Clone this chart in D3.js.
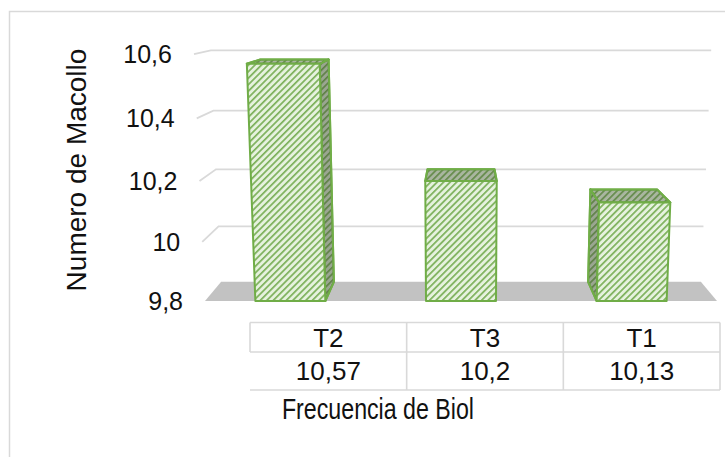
<!DOCTYPE html>
<html>
<head>
<meta charset="utf-8">
<script src="https://cdn.jsdelivr.net/npm/d3@7"></script>
<style>
  html, body { margin: 0; padding: 0; background: #fff; }
  svg { display: block; font-family: "Liberation Sans", Arial, sans-serif; }
</style>
</head>
<body>
<svg id="chart" width="725" height="457"></svg>
<script>
// Numero de Macollo por frecuencia de aplicación de Biol
const categories = ["T2", "T3", "T1"];
const values = [10.57, 10.2, 10.13];
const valueLabels = ["10,57", "10,2", "10,13"];
const tickValues = [9.8, 10, 10.2, 10.4, 10.6];
const tickLabels = ["9,8", "10", "10,2", "10,4", "10,6"];

const svg = d3.select("#chart");

// ---- 3D projection helpers -------------------------------------------------
// value -> height fraction on the front plane
const tScale = d3.scaleLinear().domain([9.8, 10.6]).range([0, 1]);
// categories laid out along the floor's front edge
const xBand = d3.scaleBand().domain(categories).range([205, 717])
  .paddingInner(0.59).paddingOuter(0.295);

const floorY = 301;                    // front edge of the floor
const wallH = 233.4, persp = -0.055;   // foreshortened front-plane height
const cx = 461, spread = 0.043;        // verticals converge downward
const VP = { x: 461, y: -5 }, depthK = 0.063;

function frontY(t) { return floorY - wallH * t / (1 + persp * t); }
function frontX(xb, t) { return cx + (xb - cx) * (1 + spread * t); }
function project(xb, t, z) {
  const fx = frontX(xb, t), fy = frontY(t);
  return [fx + z * depthK * (VP.x - fx), fy + z * depthK * (VP.y - fy)];
}
const poly = pts => "M" + pts.map(p => p[0].toFixed(2) + "," + p[1].toFixed(2)).join("L") + "Z";
const line = pts => "M" + pts.map(p => p[0].toFixed(2) + "," + p[1].toFixed(2)).join("L");

// ---- hatch pattern ---------------------------------------------------------
const defs = svg.append("defs");
const pat = defs.append("pattern")
  .attr("id", "hatch")
  .attr("patternUnits", "userSpaceOnUse")
  .attr("width", 4.6).attr("height", 4.6)
  .attr("patternTransform", "rotate(45)");
pat.append("rect").attr("width", 4.6).attr("height", 4.6).attr("fill", "#e6f2de");
pat.append("rect").attr("x", 0).attr("width", 1.7).attr("height", 4.6).attr("fill", "#7cb05a");

// ---- chart frame -----------------------------------------------------------
svg.append("rect")
  .attr("x", 9.5).attr("y", 11.5)
  .attr("width", 740).attr("height", 470)
  .attr("fill", "#fff").attr("stroke", "#d9d9d9").attr("stroke-width", 1.5);

const xL = xBand.range()[0], xR = xBand.range()[1];

// ---- floor -----------------------------------------------------------------
svg.append("path")
  .attr("d", poly([project(xL, 0, 0), project(xR, 0, 0), project(xR, 0, 1), project(xL, 0, 1)]))
  .attr("fill", "#c2c2c2");

// ---- gridlines (side wall + back wall) -------------------------------------
svg.append("g").selectAll("path")
  .data(tickValues.filter(v => v > tScale.domain()[0]))
  .join("path")
  .attr("d", v => {
    const t = tScale(v);
    return line([project(xL, t, 0), project(xL, t, 1), project(xR, t, 1)]);
  })
  .attr("fill", "none").attr("stroke", "#d9d9d9").attr("stroke-width", 1.8);

// ---- y tick labels ---------------------------------------------------------
svg.append("g").selectAll("text")
  .data(tickValues)
  .join("text")
  .attr("x", v => frontX(xL, tScale(v)) - 22)
  .attr("y", v => frontY(tScale(v)))
  .attr("dy", "0.36em")
  .attr("text-anchor", "end")
  .attr("font-size", 25)
  .attr("fill", "#111")
  .text((v, i) => tickLabels[i]);

// ---- bars ------------------------------------------------------------------
const bars = svg.append("g");
categories.forEach((c, i) => {
  const x0 = xBand(c), x1 = x0 + xBand.bandwidth();
  const t = tScale(values[i]);
  const g = bars.append("g");
  const faceStyle = sel => sel.attr("fill", "url(#hatch)")
    .attr("stroke", "#70ad47").attr("stroke-width", 2).attr("stroke-linejoin", "round");
  const shaded = (pts, alpha) => {
    g.append("path").attr("d", poly(pts)).call(faceStyle);
    g.append("path").attr("d", poly(pts)).attr("fill", "#3d4a33").attr("opacity", alpha);
    g.append("path").attr("d", poly(pts)).attr("fill", "none")
      .attr("stroke", "#70ad47").attr("stroke-width", 2).attr("stroke-linejoin", "round");
  };

  // visible side face
  if (x1 < cx) shaded([project(x1, 0, 0), project(x1, t, 0), project(x1, t, 1), project(x1, 0, 1)], 0.45);
  else if (x0 > cx) shaded([project(x0, 0, 0), project(x0, t, 0), project(x0, t, 1), project(x0, 0, 1)], 0.45);
  // top face
  shaded([project(x0, t, 0), project(x1, t, 0), project(x1, t, 1), project(x0, t, 1)], 0.36);
  // front face
  g.append("path")
    .attr("d", poly([project(x0, 0, 0), project(x1, 0, 0), project(x1, t, 0), project(x0, t, 0)]))
    .call(faceStyle);
});

// ---- data table ------------------------------------------------------------
const tbl = d3.scaleBand().domain(categories).range([250, 720]);
const rowTop = 322.5, rowMid = 352, rowBot = 390;
const tg = svg.append("g").attr("stroke", "#d9d9d9").attr("stroke-width", 1.6);
[rowTop, rowMid, rowBot].forEach(y => {
  tg.append("line").attr("x1", tbl.range()[0]).attr("x2", tbl.range()[1]).attr("y1", y).attr("y2", y);
});
tg.append("line").attr("x1", 250).attr("x2", 250).attr("y1", rowTop).attr("y2", rowMid);
categories.slice(1).forEach(c => {
  tg.append("line").attr("x1", tbl(c)).attr("x2", tbl(c)).attr("y1", rowTop).attr("y2", rowBot);
});
tg.append("line").attr("x1", 720).attr("x2", 720).attr("y1", rowTop).attr("y2", rowBot);

const tt = svg.append("g").attr("font-size", 26).attr("fill", "#111").attr("text-anchor", "middle");
categories.forEach((c, i) => {
  const xm = tbl(c) + tbl.bandwidth() / 2;
  tt.append("text").attr("x", xm).attr("y", (rowTop + rowMid) / 2).attr("dy", "0.36em").text(c);
  tt.append("text").attr("x", xm).attr("y", (rowMid + rowBot) / 2).attr("dy", "0.36em").text(valueLabels[i]);
});

// ---- axis titles -----------------------------------------------------------
svg.append("text")
  .attr("x", 378).attr("y", 409).attr("dy", "0.36em")
  .attr("text-anchor", "middle").attr("font-size", 29).attr("fill", "#111")
  .attr("transform", "translate(378,0) scale(0.8,1) translate(-378,0)")
  .text("Frecuencia de Biol");

svg.append("text")
  .attr("transform", "translate(76,170) rotate(-90)")
  .attr("dy", "0.36em")
  .attr("text-anchor", "middle").attr("font-size", 28).attr("fill", "#111")
  .text("Numero de Macollo");
</script>
</body>
</html>
